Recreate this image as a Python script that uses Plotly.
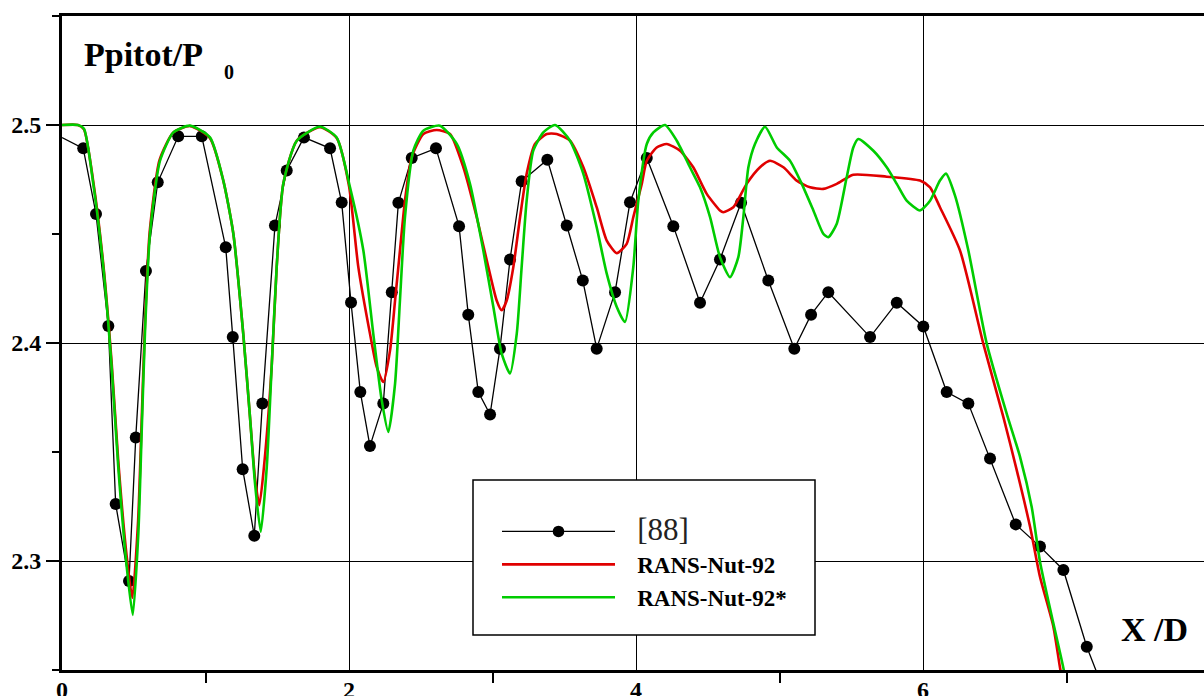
import plotly.graph_objects as go

# Experimental data [88]
exp_x = [0.0, 0.148, 0.237, 0.323, 0.374, 0.467, 0.514, 0.585, 0.667, 0.810, 0.974,
         1.141, 1.190, 1.259, 1.340, 1.396, 1.484, 1.566, 1.686, 1.868, 1.949,
         2.014, 2.079, 2.146, 2.239, 2.298, 2.344, 2.437, 2.606, 2.767, 2.831,
         2.901, 2.983, 3.052, 3.122, 3.203, 3.382, 3.517, 3.629, 3.726, 3.854,
         3.958, 4.075, 4.260, 4.446, 4.585, 4.732, 4.922, 5.103, 5.220, 5.340,
         5.631, 5.817, 6.002, 6.165, 6.316, 6.467, 6.646, 6.815, 6.978, 7.141, 7.233]
exp_y = [2.4942, 2.4893, 2.4592, 2.4078, 2.3261, 2.2908, 2.3567, 2.4330, 2.4737, 2.4948, 2.4948,
         2.4439, 2.4027, 2.3421, 2.3116, 2.3722, 2.4539, 2.4791, 2.4943, 2.4893, 2.4644,
         2.4186, 2.3775, 2.3527, 2.3722, 2.4233, 2.4643, 2.4849, 2.4893, 2.4536, 2.4130,
         2.3775, 2.3672, 2.3974, 2.4383, 2.4742, 2.4841, 2.4539, 2.4287, 2.3974, 2.4233,
         2.4646, 2.4849, 2.4536, 2.4185, 2.4383, 2.4643, 2.4287, 2.3974, 2.4130, 2.4233,
         2.4027, 2.4185, 2.4076, 2.3775, 2.3722, 2.3470, 2.3168, 2.3066, 2.2959, 2.2607, 2.2451]

# RANS-Nut-92
red_x = [0.0, 0.111, 0.153, 0.218, 0.288, 0.346, 0.392, 0.451, 0.490, 0.530, 0.553,
         0.576, 0.611, 0.680, 0.776, 0.892, 1.031, 1.124, 1.194, 1.263, 1.310,
         1.345, 1.375, 1.410, 1.461, 1.496, 1.542, 1.636, 1.798, 1.914, 2.000,
         2.065, 2.146, 2.193, 2.239, 2.286, 2.321, 2.355, 2.390, 2.437, 2.518,
         2.611, 2.704, 2.797, 2.890, 2.971, 3.029, 3.064, 3.099, 3.145, 3.192,
         3.238, 3.296, 3.378, 3.447, 3.540, 3.633, 3.726, 3.796, 3.866, 3.935,
         3.981, 4.040, 4.075, 4.144, 4.214, 4.307, 4.399, 4.493, 4.585, 4.608,
         4.678, 4.771, 4.864, 4.934, 5.027, 5.120, 5.213, 5.305, 5.399, 5.514,
         5.747, 5.979, 6.049, 6.118, 6.258, 6.420, 6.560, 6.653, 6.746, 6.815,
         6.908, 6.955, 7.000]
red_y = [2.5000, 2.5000, 2.4980, 2.4740, 2.4360, 2.3910, 2.3460, 2.3020, 2.2830, 2.3180, 2.3600,
         2.4050, 2.4510, 2.4840, 2.4966, 2.4995, 2.4940, 2.4745, 2.4501, 2.4043, 2.3660,
         2.3380, 2.3256, 2.3450, 2.3890, 2.4348, 2.4730, 2.4928, 2.4990, 2.4940, 2.4720,
         2.4348, 2.4043, 2.3890, 2.3821, 2.3966, 2.4195, 2.4424, 2.4653, 2.4852, 2.4959,
         2.4977, 2.4959, 2.4806, 2.4577, 2.4348, 2.4195, 2.4150, 2.4195, 2.4348, 2.4577,
         2.4776, 2.4913, 2.4959, 2.4959, 2.4928, 2.4806, 2.4623, 2.4470, 2.4412, 2.4455,
         2.4577, 2.4730, 2.4836, 2.4897, 2.4913, 2.4882, 2.4806, 2.4684, 2.4608, 2.4600,
         2.4623, 2.4730, 2.4806, 2.4836, 2.4806, 2.4745, 2.4714, 2.4707, 2.4730, 2.4772,
         2.4763, 2.4745, 2.4714, 2.4623, 2.4424, 2.3997, 2.3660, 2.3417, 2.3157, 2.2928,
         2.2700, 2.2509, 2.2350]

# RANS-Nut-92*
grn_x = [0.0, 0.111, 0.153, 0.218, 0.288, 0.346, 0.392, 0.451, 0.493, 0.532, 0.555,
         0.578, 0.613, 0.683, 0.776, 0.892, 1.031, 1.124, 1.194, 1.263, 1.310,
         1.345, 1.385, 1.427, 1.461, 1.496, 1.542, 1.636, 1.798, 1.914, 2.007,
         2.100, 2.169, 2.228, 2.274, 2.321, 2.355, 2.390, 2.448, 2.518, 2.634,
         2.751, 2.843, 2.936, 3.006, 3.064, 3.122, 3.169, 3.203, 3.238, 3.284,
         3.354, 3.436, 3.540, 3.633, 3.726, 3.796, 3.866, 3.923, 3.981, 4.016,
         4.075, 4.121, 4.202, 4.284, 4.376, 4.446, 4.516, 4.585, 4.655, 4.713,
         4.748, 4.783, 4.829, 4.899, 4.981, 5.073, 5.155, 5.236, 5.305, 5.340,
         5.399, 5.468, 5.514, 5.549, 5.654, 5.747, 5.817, 5.886, 5.979, 6.049,
         6.118, 6.160, 6.223, 6.316, 6.444, 6.583, 6.676, 6.757, 6.815, 6.908,
         6.978, 7.020]
grn_y = [2.5000, 2.5000, 2.4983, 2.4730, 2.4348, 2.3890, 2.3432, 2.2974, 2.2753, 2.3127, 2.3585,
         2.4043, 2.4501, 2.4836, 2.4966, 2.4997, 2.4943, 2.4745, 2.4501, 2.4043, 2.3661,
         2.3356, 2.3134, 2.3432, 2.3890, 2.4348, 2.4730, 2.4928, 2.4992, 2.4943, 2.4714,
         2.4424, 2.4043, 2.3737, 2.3592, 2.3814, 2.4195, 2.4577, 2.4882, 2.4974, 2.4997,
         2.4913, 2.4730, 2.4424, 2.4165, 2.3951, 2.3860, 2.4043, 2.4348, 2.4653, 2.4882,
         2.4966, 2.5000, 2.4928, 2.4776, 2.4531, 2.4318, 2.4165, 2.4096, 2.4348, 2.4653,
         2.4913, 2.4966, 2.5000, 2.4928, 2.4806, 2.4714, 2.4577, 2.4394, 2.4302, 2.4394,
         2.4577, 2.4806, 2.4913, 2.4992, 2.4897, 2.4836, 2.4730, 2.4608, 2.4501, 2.4485,
         2.4547, 2.4760, 2.4897, 2.4936, 2.4882, 2.4806, 2.4730, 2.4653, 2.4608, 2.4653,
         2.4745, 2.4777, 2.4676, 2.4424, 2.3997, 2.3676, 2.3478, 2.3249, 2.2997, 2.2715,
         2.2509, 2.2350]

y_ticks = [2.3, 2.4, 2.5]
y_labels = ["2.3", "2.4", "2.5"]
x_ticks = [0, 2, 4, 6]
x_labels = ["0", "2", "4", "6"]
x_last_tick = 8

SERIF = "Liberation Serif"
X_MAX = 7.958
GAP = "&nbsp;&nbsp;&nbsp;"

# hide the marker at the two ends of the measured line (axis edge / clipped end)
exp_sizes = [12] * len(exp_x)
exp_sizes[0] = 0
exp_sizes[-1] = 0

fig = go.Figure()
fig.add_trace(go.Scatter(
    x=exp_x, y=exp_y, mode="lines+markers",
    name=GAP + "<span style='font-family:Liberation Serif;font-weight:normal;"
               "font-size:31px;color:#222'>[88]</span>",
    line=dict(color="black", width=1.3),
    marker=dict(color="black", size=exp_sizes, symbol="circle", opacity=1,
                line=dict(width=0)),
    legendrank=1,
))
fig.add_trace(go.Scatter(
    x=red_x, y=red_y, mode="lines", name=GAP + "RANS-Nut-92",
    line=dict(color="#e00000", width=2.6, shape="spline", smoothing=0.6),
    legendrank=2,
))
fig.add_trace(go.Scatter(
    x=grn_x, y=grn_y, mode="lines", name=GAP + "RANS-Nut-92*",
    line=dict(color="#00cc00", width=2.6, shape="spline", smoothing=0.6),
    legendrank=3,
))

axis_font = dict(family=SERIF, size=24, color="black", weight="bold")

fig.update_xaxes(
    range=[0, X_MAX], tickvals=x_ticks, ticktext=x_labels, automargin=False,
    ticks="outside", ticklen=2, tickcolor="rgba(0,0,0,0)", ticklabelstandoff=-6,
    minor=dict(tickvals=[1, 3, 5, 7], ticks="outside", ticklen=10, tickcolor="black",
               tickwidth=1.5, showgrid=False),
    showgrid=True, gridcolor="black", gridwidth=1.4,
    showline=True, linecolor="black", linewidth=3, mirror=True,
    tickfont=axis_font, zeroline=False,
)
fig.update_yaxes(
    range=[2.25, 2.55], tickvals=y_ticks, ticktext=y_labels, automargin=False,
    ticks="outside", ticklen=13, tickcolor="black", tickwidth=1.5,
    minor=dict(dtick=0.05, tick0=2.25, ticks="outside", ticklen=7, tickcolor="black",
               tickwidth=1.5, showgrid=False),
    showgrid=True, gridcolor="black", gridwidth=1.4,
    showline=True, linecolor="black", linewidth=3, mirror=True,
    tickfont=axis_font, zeroline=False,
)

# legend frame
fig.add_shape(type="rect", xref="paper", yref="paper",
              x0=(473 - 62) / 1142, x1=(815 - 62) / 1142,
              y0=(670 - 635) / 654, y1=(670 - 480) / 654,
              line=dict(color="black", width=1.5), fillcolor="white", layer="above")

fig.add_annotation(xref="paper", yref="paper", x=(82 - 62) / 1142, y=(670 - 55) / 654,
                   text="<b>Ppitot/P</b>", showarrow=False, xanchor="left", yanchor="middle",
                   font=dict(family=SERIF, size=34, color="black"))
fig.add_annotation(xref="paper", yref="paper", x=(222 - 62) / 1142, y=(670 - 72) / 654,
                   text="<b>0</b>", showarrow=False, xanchor="left", yanchor="middle",
                   font=dict(family=SERIF, size=20, color="black"))
fig.add_annotation(xref="paper", yref="paper", x=(1154 - 62) / 1142, y=(670 - 629) / 654,
                   text="<b>X /D</b>", showarrow=False, xanchor="center", yanchor="middle",
                   font=dict(family=SERIF, size=34, color="black"))
# last x tick label sits on the right edge of the frame
fig.add_annotation(xref="paper", yref="paper", x=x_last_tick / X_MAX, y=-0.012,
                   text=str(x_last_tick), showarrow=False, xanchor="center", yanchor="top",
                   font=axis_font)

fig.update_layout(
    width=1204, height=696,
    margin=dict(l=62, r=0, t=16, b=26, autoexpand=False),
    paper_bgcolor="white", plot_bgcolor="white",
    showlegend=True,
    legend=dict(x=(497 - 62) / 1142, y=(670 - 510) / 654, xanchor="left", yanchor="top",
                bgcolor="rgba(0,0,0,0)", borderwidth=0, itemwidth=113,
                font=dict(family=SERIF, size=23, color="black", weight="bold"),
                tracegroupgap=0),
)

fig.write_html("out.html")
